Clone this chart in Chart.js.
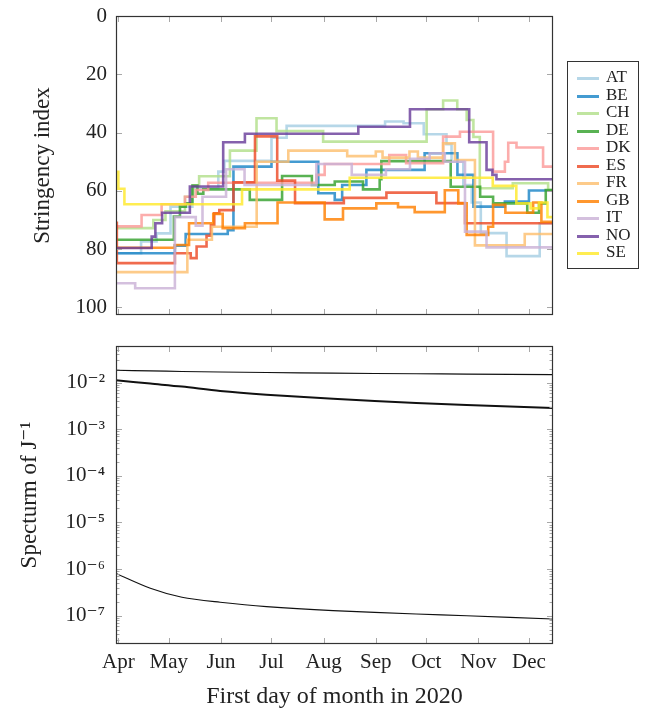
<!DOCTYPE html>
<html>
<head>
<meta charset="utf-8">
<script src="https://cdn.jsdelivr.net/npm/chart.js@4.4.1/dist/chart.umd.min.js"></script>
<style>
  body { margin: 0; background: #fff; }
  #wrap { position: relative; width: 649px; height: 711px; }
  #wrap canvas { position: absolute; left: 0; }
  #c-top { top: 0; }
  #c-bot { top: 330px; }
  #legend { position: absolute; left: 567px; top: 61px; width: 72px; height: 208px;
            border: 1px solid #333; box-sizing: border-box;
            font-family: 'Liberation Serif', 'DejaVu Serif', serif; font-size: 17px; color: #222; }
  .lg-item { position: absolute; left: 0; width: 100%; height: 18px; }
  .lg-item i { position: absolute; left: 9px; top: 8px; width: 22px; height: 3px; }
  .lg-item span { position: absolute; left: 38px; top: -1px; line-height: 18px; }
</style>
</head>
<body>
<div id="wrap">
  <canvas id="c-top" width="649" height="330"></canvas>
  <canvas id="c-bot" width="649" height="381"></canvas>
  <div id="legend"></div>
</div>
<script>
// x = days since 1 Apr 2020
const X_MIN = -1.4, X_MAX = 258.3;
const monthDays   = [0, 30, 61, 91, 122, 153, 183, 214, 244];
const monthLabels = ['Apr', 'May', 'Jun', 'Jul', 'Aug', 'Sep', 'Oct', 'Nov', 'Dec'];
const stringencyTicks = [0, 20, 40, 60, 80, 100];

const countries = ['AT', 'BE', 'CH', 'DE', 'DK', 'ES', 'FR', 'GB', 'IT', 'NO', 'SE'];
const colors = ['#a6cee3', '#1a84c6', '#b2df8a', '#33a02c', '#fb9a99', '#ec4a26',
                '#fdbf6f', '#ff7f00', '#cab2d6', '#6a3d9a', '#ffe92a'];

// [day, stringency] at each change of the index
const AT = [[-1.4,81.4],[13.5,77.4],[22.7,74.6],[31,65.4],[44,59.1],[59.4,53.4],[63,49.7],[91,41.8],[100,37.7],[158.5,36.2],[169.5,36.8],[181.5,40.6],[195,44],[198,50],[205,58],[210,64],[215.4,74.5],[230.7,82.4],[250.4,71.1]];
const BE = [[-1.4,81.4],[33.6,78.8],[40,74.8],[65,73.5],[68.4,51.7],[91,50],[118.8,60.8],[128.6,63.1],[133,58],[147.4,52.8],[182,47.1],[201.5,54.5],[211,65.4],[229.7,63.7],[244,59.9]];
const CH = [[-1.4,72.8],[20.8,70],[28,67],[39.6,62],[44.5,58.2],[48,55],[66.3,46.2],[82.1,35.1],[94,39.5],[121.7,43.1],[183.2,32],[193,29],[201.4,32],[207,35.7],[211,41.5],[214.8,59.1],[234.4,57.4],[255.4,59.7]];
const DE = [[-1.4,76.8],[33,68.8],[36.6,65.4],[40,64.3],[44,58.2],[47,61],[50.5,59.5],[78.1,63.1],[97.3,54.9],[115,58],[128.6,56.8],[145.4,59.5],[155.3,56],[156.3,49.8],[197.5,58.6],[215,62],[222.7,64.3],[243,67.5],[250,64.3],[254,59.7]];
const DK = [[-1.4,72.2],[13.8,68.3],[25.7,64.6],[39.6,62],[46,59.7],[53.4,57.2],[117.7,54.5],[122.6,50.8],[161,47.7],[171,50.5],[193,41.4],[203,39.7],[222.7,53.4],[229.7,50],[231.7,43.5],[236.6,45.1],[252.4,51.7]];
const ES = [[-1.4,71],[-0.9,84.8],[33.6,81.4],[43,83.1],[46.5,79.1],[52.4,75.4],[55,71.7],[57,67.7],[60,66.6],[68.4,57.1],[81.2,41.3],[94.4,56.5],[105,64.2],[134,62.4],[159.3,60.6],[189,64.2],[206,71.1]];
const FR = [[-1.4,87.9],[41,76.8],[55.6,72.3],[82.2,50],[101,46.2],[136,48.1],[153,46.5],[157,48.6],[173,46.5],[178,48.6],[193,43.7],[200,49.4],[211.9,78.7],[241.5,74.8]];
const GB = [[-1.4,79.5],[33.6,78.6],[42,71.1],[56.4,67.9],[62,72.8],[75.2,71.1],[94.6,64],[122.6,69.8],[133.5,66],[153.3,64.3],[166.2,65.6],[176.1,67.3],[194,59.8],[202,64.3],[207,75.1],[219.8,72.3],[222.7,64.8],[230,67.5],[246.5,64],[251.4,70.6]];
const IT = [[-1.4,91.7],[10,93.4],[33.6,69],[46,72],[50,62],[64,52.6],[75,58],[117.7,50.8],[138.7,54.5],[159,52.6],[173.3,49],[185,47.1],[194,50],[206,74],[218.8,79.4]];
const NO = [[-1.4,79.6],[19.8,75.7],[22,71.1],[26,67.5],[42.5,58.5],[62.3,43.3],[75.2,40.4],[142.6,38],[173.3,32],[208.5,43.3],[218.8,52.8],[222.3,54.5],[224.7,56]];
const SE = [[-1.4,53.5],[0,59.3],[3.6,64.6],[73.5,59.5],[137.5,55.5],[222.5,58.3],[236.5,64.3],[245,66],[250,64],[255,69]];
const stringency = [AT, BE, CH, DE, DK, ES, FR, GB, IT, NO, SE];

// spectrum of J^-1 (three eigenvalues)
const specDays  = [-1.4, 19, 37.8, 60.5, 88, 127.6, 177, 207, 258.3];
const specHigh  = [0.0183, 0.0178, 0.0173, 0.0168, 0.0164, 0.0159, 0.0155, 0.0152, 0.0148];
const specMid   = [0.0112, 0.0095, 0.0082, 0.0066, 0.0055, 0.00447, 0.00363, 0.00331, 0.00286];
const specLow   = [8.1e-7, 3.9e-7, 2.5e-7, 1.95e-7, 1.57e-7, 1.29e-7, 1.09e-7, 1.0e-7, 8.5e-8];
const LOG_MIN = 2.48e-8, LOG_MAX = 0.0608;

const SERIF = "'Liberation Serif', 'DejaVu Serif', serif";
const SUP = {'-':'⁻','0':'⁰','1':'¹','2':'²','3':'³','4':'⁴','5':'⁵','6':'⁶','7':'⁷','8':'⁸','9':'⁹'};
const isPow10 = v => Math.abs(Math.log10(v) - Math.round(Math.log10(v))) < 1e-6;

// pgfplots-like frame with inward ticks on all four sides
const frameTicks = {
  id: 'frameTicks',
  afterDraw(chart) {
    const {ctx, chartArea: a, scales} = chart;
    ctx.save();
    ctx.lineWidth = 1;
    ctx.strokeStyle = '#a8a8a8';
    ctx.beginPath();
    scales.x.ticks.forEach(t => {
      const px = Math.round(scales.x.getPixelForValue(t.value)) + 0.5;
      ctx.moveTo(px, a.top); ctx.lineTo(px, a.top + 6);
      ctx.moveTo(px, a.bottom); ctx.lineTo(px, a.bottom - 6);
    });
    const log = scales.y.type === 'logarithmic';
    scales.y.ticks.forEach(t => {
      const py = Math.round(scales.y.getPixelForValue(t.value)) + 0.5;
      const len = (log && !isPow10(t.value)) ? 3.5 : 6;
      ctx.moveTo(a.left, py); ctx.lineTo(a.left + len, py);
      ctx.moveTo(a.right, py); ctx.lineTo(a.right - len, py);
    });
    ctx.stroke();
    ctx.strokeStyle = '#333';
    ctx.lineWidth = 1.2;
    ctx.strokeRect(Math.round(a.left) + 0.5, Math.round(a.top) + 0.5,
                   Math.round(a.width) - 1, Math.round(a.height) - 1);
    ctx.restore();
  }
};

// fixed axis boxes so both panels share the same plot area
const fixX = h => s => { s.height = h; s.paddingLeft = 0; s.paddingRight = 0; };
const fixY = s => { s.width = 116; s.paddingTop = 0; s.paddingBottom = 0; };

const xScale = (showLabels) => ({
  type: 'linear', min: X_MIN, max: X_MAX,
  afterBuildTicks: s => { s.ticks = monthDays.map(v => ({value: v})); },
  afterFit: fixX(showLabels ? 67 : 15),
  grid: {display: false, drawTicks: false}, border: {display: false},
  ticks: {
    display: showLabels, autoSkip: false, maxRotation: 0, padding: 6,
    color: '#222', font: {family: SERIF, size: 21},
    callback: v => monthLabels[monthDays.indexOf(v)]
  },
  title: {
    display: showLabels, text: 'First day of month in 2020',
    color: '#222', font: {family: SERIF, size: 24, lineHeight: 1.2}, padding: {top: 0, bottom: 0}
  }
});

new Chart(document.getElementById('c-top'), {
  type: 'line',
  data: {
    datasets: countries.map((c, i) => ({
      label: c,
      data: stringency[i].concat([[X_MAX, stringency[i][stringency[i].length - 1][1]]])
                          .map(p => ({x: p[0], y: p[1]})),
      stepped: 'before',
      borderColor: colors[i] + 'd0',
      borderWidth: 2.6,
      pointRadius: 0,
      order: countries.length - i
    }))
  },
  options: {
    responsive: false, animation: false, devicePixelRatio: 1,
    layout: {padding: {top: 16, right: 96, left: 0, bottom: 0}},
    plugins: {legend: {display: false}, tooltip: {enabled: false}},
    scales: {
      x: xScale(false),
      y: {
        type: 'linear', min: 0, max: 102.6, reverse: true,
        afterBuildTicks: s => { s.ticks = stringencyTicks.map(v => ({value: v})); },
        afterFit: fixY,
        grid: {display: false, drawTicks: false}, border: {display: false},
        ticks: {padding: 9, color: '#222', font: {family: SERIF, size: 21}},
        title: {display: true, text: 'Stringency index', color: '#222',
                font: {family: SERIF, size: 23, lineHeight: 1.2}, padding: {top: 29, bottom: 0}}
      }
    }
  },
  plugins: [frameTicks]
});

const specSeries = [specHigh, specMid, specLow];
const specWidths = [1.1, 2, 1.1];
new Chart(document.getElementById('c-bot'), {
  type: 'line',
  data: {
    datasets: specSeries.map((s, i) => ({
      data: s.map((v, j) => ({x: specDays[j], y: v})),
      borderColor: '#111', borderWidth: specWidths[i], pointRadius: 0, tension: 0.3
    }))
  },
  options: {
    responsive: false, animation: false, devicePixelRatio: 1,
    layout: {padding: {top: 16, right: 96, left: 0, bottom: 0}},
    plugins: {legend: {display: false}, tooltip: {enabled: false}},
    scales: {
      x: xScale(true),
      y: {
        type: 'logarithmic', min: LOG_MIN, max: LOG_MAX,
        afterBuildTicks: s => {
          const t = [];
          for (let k = -8; k <= -2; k++)
            for (let m = 1; m <= 9; m++) {
              const v = m * Math.pow(10, k);
              if (v >= LOG_MIN && v <= LOG_MAX) t.push({value: v});
            }
          s.ticks = t;
        },
        afterFit: fixY,
        grid: {display: false, drawTicks: false}, border: {display: false},
        ticks: {
          autoSkip: false, padding: 11, color: '#222', font: {family: SERIF, size: 21},
          callback: v => isPow10(v)
            ? '10' + String(Math.round(Math.log10(v))).split('').map(ch => SUP[ch]).join('')
            : ''
        },
        title: {display: true, text: 'Specturm of J⁻¹', color: '#222',
                font: {family: SERIF, size: 23, lineHeight: 1.2}, padding: {top: 16, bottom: 0}}
      }
    }
  },
  plugins: [frameTicks]
});

// legend
const legend = document.getElementById('legend');
countries.forEach((c, i) => {
  const row = document.createElement('div');
  row.className = 'lg-item';
  row.style.top = (7 + i * 17.5) + 'px';
  row.innerHTML = `<i style="background:${colors[i]}d0"></i><span>${c}</span>`;
  legend.appendChild(row);
});
</script>
</body>
</html>
